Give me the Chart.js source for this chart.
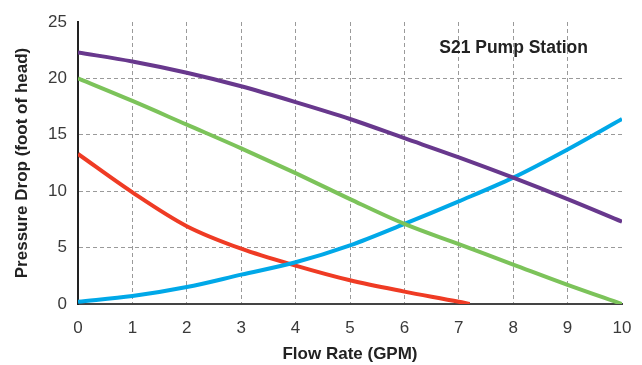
<!DOCTYPE html>
<html>
<head>
<meta charset="utf-8">
<script src="https://cdn.jsdelivr.net/npm/chart.js@4"></script>
<style>
  html, body { margin: 0; padding: 0; background: #ffffff; }
  #wrap { width: 642px; height: 365px; position: relative; }
</style>
</head>
<body>
<div id="wrap"><canvas id="c" width="642" height="365"></canvas></div>
<script>
// Flow rate (GPM) sample points
const flowRates = [0, 1, 2, 3, 4, 5, 6, 7, 8, 9, 10];
// Pump curve (purple)
const pumpCurve = [22.3, 21.5, 20.5, 19.3, 17.9, 16.4, 14.7, 13.0, 11.2, 9.3, 7.3];
// Green curve
const greenCurve = [20.0, 18.0, 15.9, 13.8, 11.6, 9.3, 7.1, 5.3, 3.5, 1.7, 0.0];
// System curve (blue)
const systemCurve = [0.2, 0.7, 1.5, 2.6, 3.7, 5.2, 7.1, 9.1, 11.2, 13.7, 16.4];
// Red curve, ends where it reaches zero
const redFlow = [0, 1, 2, 3, 4, 5, 6, 7, 7.2];
const redCurve = [13.3, 9.9, 6.9, 4.9, 3.4, 2.1, 1.1, 0.2, 0.0];

const chartTitle = 'S21 Pump Station';
const xTitle = 'Flow Rate (GPM)';
const yTitle = 'Pressure Drop (foot of head)';

const toPoints = (xs, ys) => xs.map((x, i) => ({ x: x, y: ys[i] }));

const lineStyle = (color) => ({
  borderColor: color,
  backgroundColor: color,
  borderWidth: 4,
  pointRadius: 0,
  fill: false,
  cubicInterpolationMode: 'monotone',
  borderCapStyle: 'butt'
});

const tickFont = { family: 'Liberation Sans, Arial, sans-serif', size: 17 };
const titleFont = { family: 'Liberation Sans, Arial, sans-serif', size: 17, weight: 'bold' };

// Chart title drawn inside the plot area, top right
const innerTitle = {
  id: 'innerTitle',
  afterDatasetsDraw(chart) {
    const { ctx, chartArea } = chart;
    ctx.save();
    ctx.font = 'bold 17.5px Liberation Sans, Arial, sans-serif';
    ctx.fillStyle = '#222';
    ctx.textAlign = 'right';
    ctx.textBaseline = 'middle';
    ctx.fillText(chartTitle, chartArea.right - 34, chartArea.top + 26);
    ctx.restore();
  }
};

new Chart(document.getElementById('c'), {
  type: 'line',
  data: {
    datasets: [
      Object.assign({ label: 'Pump', data: toPoints(flowRates, pumpCurve) }, lineStyle('#68388d')),
      Object.assign({ label: 'Green', data: toPoints(flowRates, greenCurve) }, lineStyle('#7cc35a')),
      Object.assign({ label: 'System', data: toPoints(flowRates, systemCurve) }, lineStyle('#00a8e8')),
      Object.assign({ label: 'Red', data: toPoints(redFlow, redCurve) }, lineStyle('#ef3b24'))
    ]
  },
  options: {
    responsive: false,
    animation: false,
    layout: { padding: { left: 12, right: 20, top: 22, bottom: 0 } },
    plugins: {
      legend: { display: false },
      tooltip: { enabled: false }
    },
    scales: {
      x: {
        type: 'linear',
        min: 0,
        max: 10,
        ticks: { stepSize: 1, color: '#3a3a3a', font: tickFont, padding: 14 },
        grid: {
          color: (c) => (c.tick && (c.tick.value === 0 || c.tick.value === 10)) ? 'rgba(0,0,0,0)' : '#9a9a9a',
          lineWidth: 1,
          drawTicks: false
        },
        border: { display: true, color: '#444', width: 2, dash: [4, 3] },
        title: { display: true, text: xTitle, color: '#222', font: titleFont, padding: { top: 8, bottom: 0 } },
        afterFit(scale) {
          scale.height = 61;
          scale.paddingLeft = 0;
          scale.paddingRight = 0;
        }
      },
      y: {
        min: 0,
        max: 25,
        ticks: { stepSize: 5, color: '#3a3a3a', font: tickFont, padding: 11 },
        grid: {
          color: (c) => (c.tick && (c.tick.value === 0 || c.tick.value === 25)) ? 'rgba(0,0,0,0)' : '#9a9a9a',
          lineWidth: 1,
          drawTicks: false
        },
        border: { display: true, color: '#222', width: 2, dash: [4, 3] },
        title: { display: true, text: yTitle, color: '#222', font: titleFont, padding: { top: 0, bottom: 6 } },
        afterFit(scale) {
          scale.width = 66;
          scale.paddingTop = 0;
          scale.paddingBottom = 0;
        }
      }
    }
  },
  plugins: [innerTitle]
});
</script>
</body>
</html>
